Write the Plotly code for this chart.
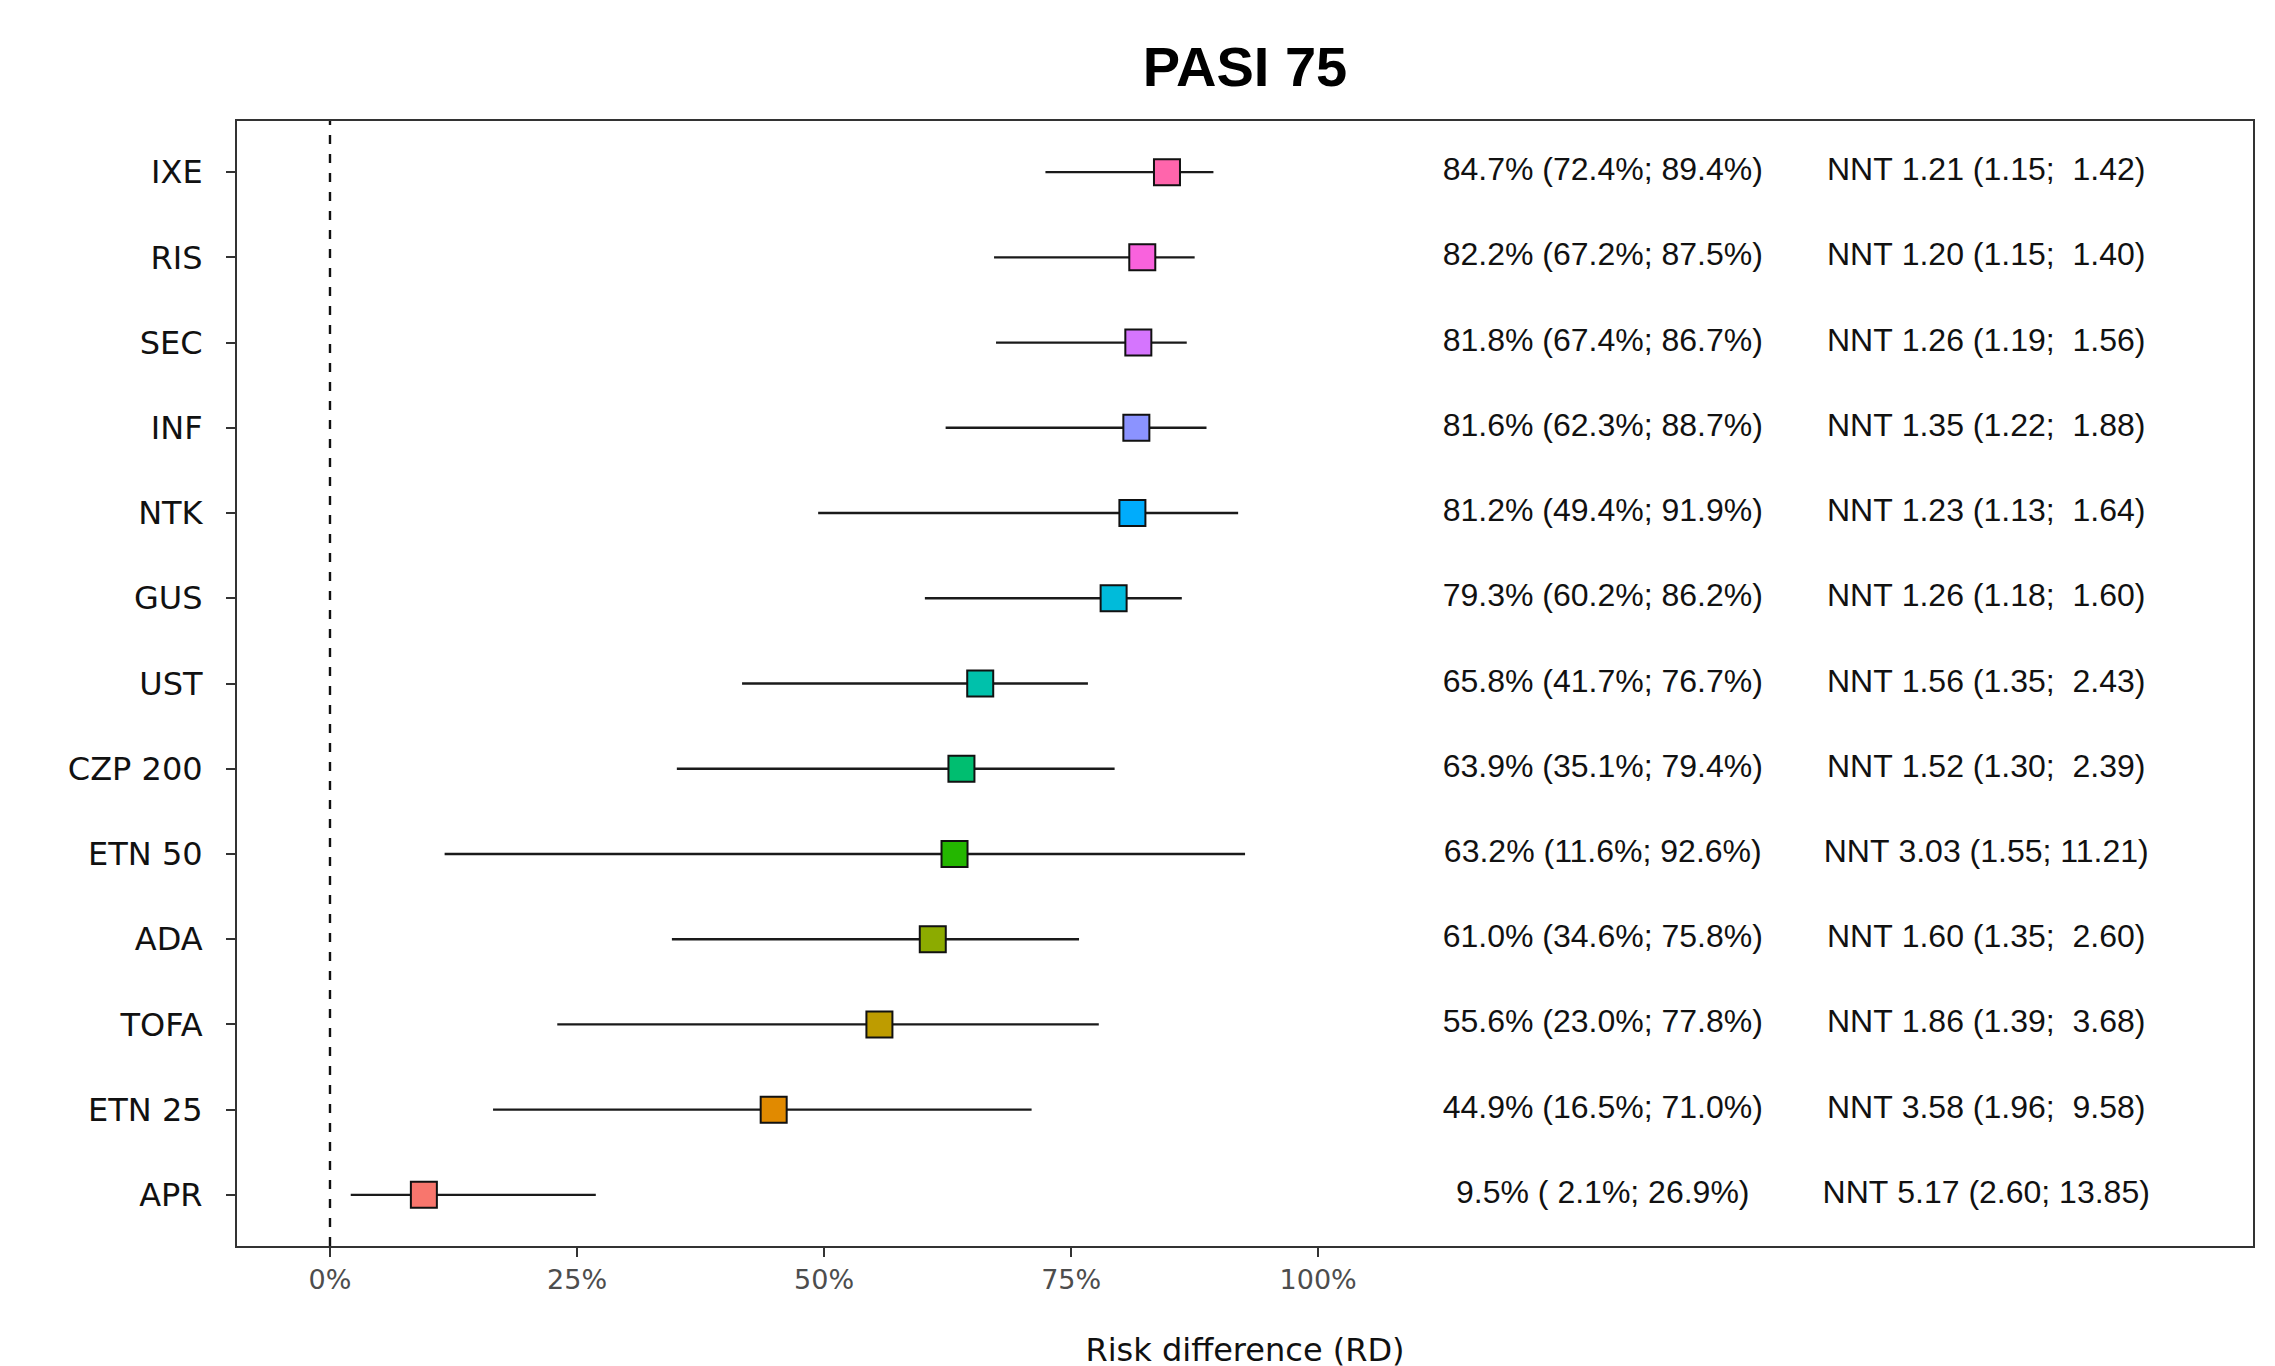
import plotly.graph_objects as go

# ---- data (top to bottom) ----
labels = ["IXE", "RIS", "SEC", "INF", "NTK", "GUS", "UST", "CZP 200", "ETN 50", "ADA", "TOFA", "ETN 25", "APR"]
rd = [84.7, 82.2, 81.8, 81.6, 81.2, 79.3, 65.8, 63.9, 63.2, 61.0, 55.6, 44.9, 9.5]
rd_lo = [72.4, 67.2, 67.4, 62.3, 49.4, 60.2, 41.7, 35.1, 11.6, 34.6, 23.0, 16.5, 2.1]
rd_hi = [89.4, 87.5, 86.7, 88.7, 91.9, 86.2, 76.7, 79.4, 92.6, 75.8, 77.8, 71.0, 26.9]
nnt = [1.21, 1.20, 1.26, 1.35, 1.23, 1.26, 1.56, 1.52, 3.03, 1.60, 1.86, 3.58, 5.17]
nnt_lo = [1.15, 1.15, 1.19, 1.22, 1.13, 1.18, 1.35, 1.30, 1.55, 1.35, 1.39, 1.96, 2.60]
nnt_hi = [1.42, 1.40, 1.56, 1.88, 1.64, 1.60, 2.43, 2.39, 11.21, 2.60, 3.68, 9.58, 13.85]
colors = ["#FF65AC", "#F962DD", "#D575FE", "#8B93FF", "#00ACFC", "#00BBDA", "#00C1AB",
          "#00BE70", "#24B700", "#8CAB00", "#BE9C00", "#E18A00", "#F8766D"]
x_ticks = [0, 25, 50, 75, 100]
x_ticklabels = ["0%", "25%", "50%", "75%", "100%"]

NB = "\u00a0"


def pad(s, w):
    return NB * max(0, w - len(s)) + s


rd_text = [f"{r:.1f}% ({pad(f'{l:.1f}', 4)}%; {pad(f'{h:.1f}', 4)}%)".replace(" ", NB)
           for r, l, h in zip(rd, rd_lo, rd_hi)]
nnt_text = [f"NNT {n:.2f} ({a:.2f}; {pad(f'{b:.2f}', 5)})".replace(" ", NB)
            for n, a, b in zip(nnt, nnt_lo, nnt_hi)]

fig = go.Figure()

fig.add_trace(go.Scatter(
    x=rd, y=labels, mode="markers",
    marker=dict(symbol="square", size=26, color=colors, line=dict(color="#111111", width=2)),
    error_x=dict(type="data", symmetric=False,
                 array=[h - r for h, r in zip(rd_hi, rd)],
                 arrayminus=[r - l for r, l in zip(rd, rd_lo)],
                 color="#1a1a1a", thickness=2.4, width=0),
    showlegend=False, hoverinfo="skip",
))

text_font = dict(family="Liberation Sans, Arial, sans-serif", size=32, color="#111111")
fig.add_trace(go.Scatter(
    x=[128.8] * len(labels), y=labels, mode="text", text=rd_text,
    textposition="middle center", textfont=text_font,
    showlegend=False, hoverinfo="skip",
))
fig.add_trace(go.Scatter(
    x=[167.6] * len(labels), y=labels, mode="text", text=nnt_text,
    textposition="middle center", textfont=text_font,
    showlegend=False, hoverinfo="skip",
))

fig.add_shape(type="line", x0=0, x1=0, xref="x", y0=0, y1=1, yref="paper",
              line=dict(color="#111111", width=2.4, dash="9px,10px"), layer="below")

fig.update_layout(
    width=2275, height=1366,
    margin=dict(l=229, r=30, t=113, b=124),
    paper_bgcolor="white", plot_bgcolor="white",
    title=dict(text="<b>PASI 75</b>", x=0.5, xref="paper", xanchor="center",
               y=1 - 58 / 1366, yref="container", yanchor="middle",
               font=dict(family="Liberation Sans, Arial, sans-serif", size=56, color="#000000")),
    font=dict(family="DejaVu Sans, Verdana, sans-serif", color="#111111"),
)

fig.update_xaxes(
    range=[-9.41, 194.6], showgrid=False, zeroline=False,
    tickvals=x_ticks, ticktext=x_ticklabels,
    ticks="outside", ticklen=9, tickwidth=2, tickcolor="#333333",
    tickfont=dict(family="DejaVu Sans, Verdana, sans-serif", size=27, color="#4D4D4D"),
    showline=True, mirror=True, linecolor="#333333", linewidth=2,
    title=dict(text="Risk difference (RD)", standoff=44,
               font=dict(family="DejaVu Sans, Verdana, sans-serif", size=32, color="#111111")),
)

fig.update_yaxes(
    type="category", categoryorder="array", categoryarray=labels[::-1],
    range=[-0.6, len(labels) - 0.4], showgrid=False, zeroline=False,
    ticks="outside", ticklen=9, tickwidth=2, tickcolor="#333333",
    tickfont=dict(family="DejaVu Sans, Verdana, sans-serif", size=32, color="#111111"),
    ticklabelstandoff=17,
    showline=True, mirror=True, linecolor="#333333", linewidth=2,
)

fig.write_html("out.html")
